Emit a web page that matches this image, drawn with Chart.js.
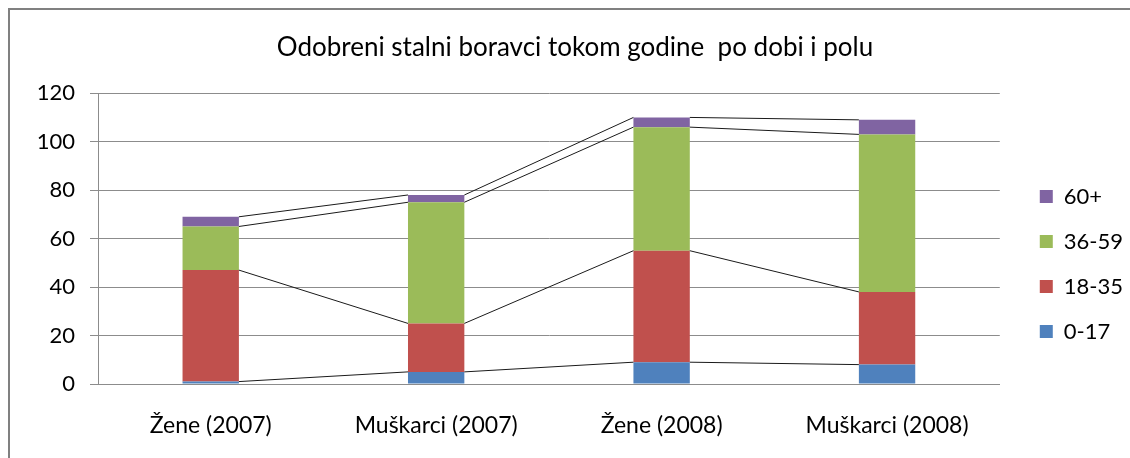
<!DOCTYPE html>
<html><head><meta charset="utf-8">
<script src="https://cdn.jsdelivr.net/npm/chart.js@4.4.1/dist/chart.umd.min.js"></script>
<style>html,body{margin:0;padding:0;background:#fff;}</style>
</head><body><canvas id="c" width="1130" height="458"></canvas>
<script>
const categories = ['Žene (2007)', 'Muškarci (2007)', 'Žene (2008)', 'Muškarci (2008)'];
const seriesNames = ['0-17', '18-35', '36-59', '60+'];
const age0_17 = [1, 5, 9, 8];
const age18_35 = [46, 20, 46, 30];
const age36_59 = [18, 50, 51, 65];
const age60plus = [4, 3, 4, 6];
const yTicks = [0, 20, 40, 60, 80, 100, 120];
const colors = ['#4F81BD', '#C0504D', '#9BBB59', '#8064A2'];
const FONT = 'Lato';

const frame = {
  id: 'frame',
  beforeDraw(chart) {
    const ctx = chart.ctx; ctx.save();
    ctx.strokeStyle = '#808080'; ctx.lineWidth = 2;
    ctx.beginPath(); ctx.moveTo(9, 460); ctx.lineTo(9, 9); ctx.lineTo(1135, 9); ctx.stroke();
    ctx.restore();
  }
};
const seriesLines = {
  id: 'seriesLines',
  afterDatasetsDraw(chart) {
    const ctx = chart.ctx; ctx.save();
    ctx.strokeStyle = '#1a1a1a'; ctx.lineWidth = 1;
    chart.data.datasets.forEach((ds, i) => {
      const els = chart.getDatasetMeta(i).data;
      for (let j = 0; j < els.length - 1; j++) {
        const a = els[j], b = els[j + 1];
        ctx.beginPath();
        ctx.moveTo(a.x + a.width / 2, a.y);
        ctx.lineTo(b.x - b.width / 2, b.y);
        ctx.stroke();
      }
    });
    ctx.restore();
  }
};
const boxShift = {
  id: 'boxShift',
  afterLayout(chart) {
    const lg = chart.legend;
    lg.top += 35; lg.bottom += 35;
    lg.left += 17; lg.right += 17;
    const t = chart.titleBlock;
    if (t) { t.left += 7; t.right += 7; }
  }
};

new Chart(document.getElementById('c'), {
  type: 'bar',
  data: {
    labels: categories,
    datasets: [age0_17, age18_35, age36_59, age60plus].map((d, i) => ({
      label: seriesNames[i], data: d, backgroundColor: colors[i], borderWidth: 0
    }))
  },
  plugins: [frame, seriesLines, boxShift],
  options: {
    responsive: false, animation: false,
    layout: { padding: { left: 20, right: 14, top: 0, bottom: 0 } },
    datasets: { bar: { categoryPercentage: 1, barPercentage: 0.25 } },
    plugins: {
      title: { display: true, text: 'Odobreni stalni boravci tokom godine  po dobi i polu', color: '#000',
        font: { family: FONT, size: 26, weight: 'normal' }, padding: { top: 32, bottom: 30 } },
      legend: { position: 'right', reverse: true,
        labels: { boxWidth: 13, boxHeight: 13, padding: 23, color: '#000', font: { family: FONT, size: 22 } } },
      tooltip: { enabled: false }
    },
    scales: {
      x: { stacked: true, grid: { display: false, drawTicks: false }, border: { display: true, color: '#8c8c8c' },
        afterFit(s) { s.height = 74; },
        ticks: { color: '#000', padding: 28, font: { family: FONT, size: 23 } } },
      y: { stacked: true, min: 0, max: 120, grid: { color: '#8c8c8c', tickLength: 8 }, border: { display: true, color: '#8c8c8c' },
        afterBuildTicks(s) { s.ticks = yTicks.map(v => ({ value: v })); },
        afterFit(s) { s.width = 78; },
        ticks: { color: '#000', padding: 15, font: { family: FONT, size: 22 } } }
    }
  }
});
</script></body></html>
